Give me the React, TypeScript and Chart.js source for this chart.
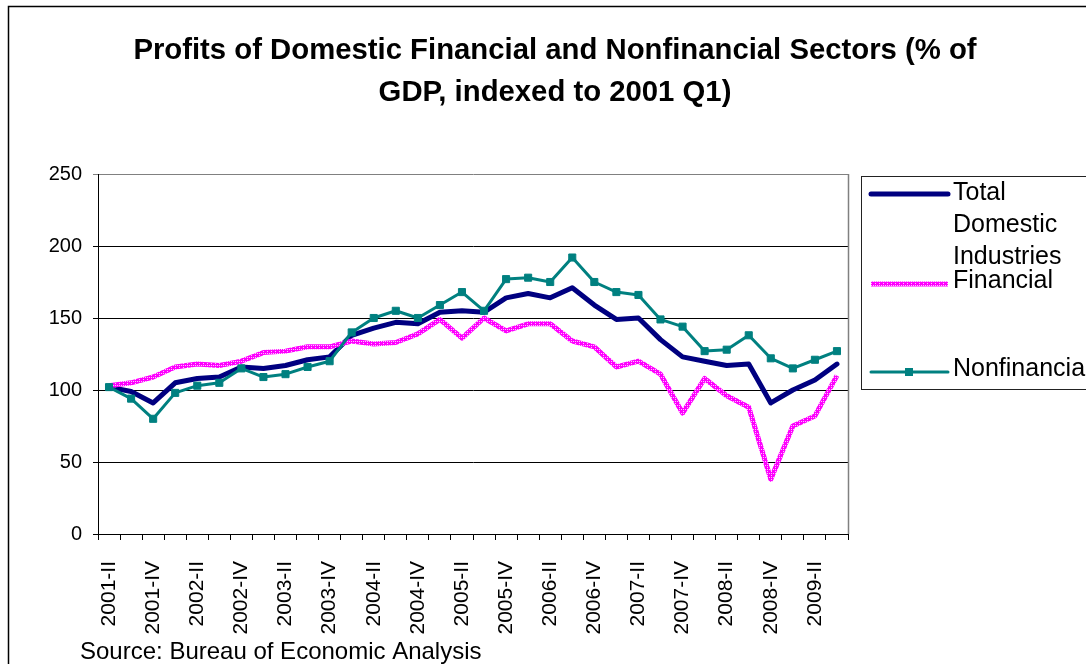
import React, { useEffect, useRef } from 'react';
import { Chart, registerables } from 'chart.js';

Chart.register(...registerables);

const FONT = '"Liberation Sans", Arial, Helvetica, sans-serif';

const TITLE_LINES = [
  'Profits of Domestic Financial and Nonfinancial Sectors (% of',
  'GDP, indexed to 2001 Q1)',
];
const SOURCE_TEXT = 'Source: Bureau of Economic Analysis';

const QUARTERS = [
  '2001-II', '2001-III', '2001-IV',
  '2002-I', '2002-II', '2002-III', '2002-IV',
  '2003-I', '2003-II', '2003-III', '2003-IV',
  '2004-I', '2004-II', '2004-III', '2004-IV',
  '2005-I', '2005-II', '2005-III', '2005-IV',
  '2006-I', '2006-II', '2006-III', '2006-IV',
  '2007-I', '2007-II', '2007-III', '2007-IV',
  '2008-I', '2008-II', '2008-III', '2008-IV',
  '2009-I', '2009-II', '2009-III',
];

const TOTAL = [102, 99, 91, 105, 108, 109, 116, 115, 117, 121, 123, 138, 143, 147, 146, 154, 155, 154, 164, 167, 164, 171, 159, 149, 150, 135, 123, 120, 117, 118, 91, 100, 107, 118];
const FINANCIAL = [103, 105, 109, 116, 118, 117, 120, 126, 127, 130, 130, 134, 132, 133, 139, 149, 136, 150, 141, 146, 146, 134, 130, 116, 120, 111, 84, 108, 96, 88, 38, 75, 82, 110];
const NONFINANCIAL = [102, 94, 80, 98, 103, 105, 115, 109, 111, 116, 120, 140, 150, 155, 150, 159, 168, 155, 177, 178, 175, 192, 175, 168, 166, 149, 144, 127, 128, 138, 122, 115, 121, 127];

const SERIES_NAMES = ['Total Domestic Industries', 'Financial', 'Nonfinancial'];
const LEGEND_TEXT = [['Total', 'Domestic', 'Industries'], ['Financial'], ['Nonfinancial']];

const Y_TICKS = [0, 50, 100, 150, 200, 250];

const NAVY = '#000080';
const MAGENTA = '#ff00ff';
const TEAL = '#008080';

function makePattern(): CanvasPattern | string {
  const c = document.createElement('canvas');
  c.width = 4;
  c.height = 4;
  const g = c.getContext('2d');
  if (!g) return MAGENTA;
  g.fillStyle = MAGENTA;
  g.fillRect(0, 0, 4, 4);
  g.fillStyle = '#ffc4ff';
  g.fillRect(1, 1, 1, 1);
  g.fillRect(3, 3, 1, 1);
  g.fillRect(3, 1, 1, 1);
  const p = g.createPattern(c, 'repeat');
  return p || MAGENTA;
}

export default function App() {
  const ref = useRef<HTMLCanvasElement | null>(null);

  useEffect(() => {
    const canvas = ref.current;
    if (!canvas) return;
    const pattern = makePattern();

    const decor = {
      id: 'decor',
      beforeDraw(chart: any) {
        const ctx = chart.ctx;
        ctx.save();
        ctx.fillStyle = '#fff';
        ctx.fillRect(0, 0, chart.width, chart.height);
        ctx.restore();
      },
      afterDraw(chart: any) {
        const ctx = chart.ctx as CanvasRenderingContext2D;
        const a = chart.chartArea;
        ctx.save();
        // plot area right border
        ctx.strokeStyle = '#808080';
        ctx.lineWidth = 1.5;
        ctx.beginPath();
        ctx.moveTo(a.right + 0.5, a.top);
        ctx.lineTo(a.right + 0.5, a.bottom);
        ctx.stroke();

        // outer frame
        ctx.strokeStyle = '#000';
        ctx.lineWidth = 1.5;
        ctx.strokeRect(8.5, 6.5, 1300, 900);

        // title
        ctx.fillStyle = '#000';
        ctx.font = `bold 29.3px ${FONT}`;
        ctx.textAlign = 'center';
        ctx.textBaseline = 'alphabetic';
        ctx.fillText(TITLE_LINES[0], 555, 59);
        ctx.fillText(TITLE_LINES[1], 555, 101);

        // source
        ctx.font = `24px ${FONT}`;
        ctx.textAlign = 'left';
        ctx.textBaseline = 'middle';
        ctx.fillText(SOURCE_TEXT, 80, 652);

        // legend box
        ctx.strokeStyle = '#222';
        ctx.lineWidth = 1;
        ctx.strokeRect(861.5, 176.5, 400, 213);

        const lx0 = 871;
        const lx1 = 948;
        const tx = 953;
        ctx.font = `25px ${FONT}`;
        ctx.textAlign = 'left';
        ctx.textBaseline = 'middle';
        ctx.fillStyle = '#000';

        // Total
        ctx.lineCap = 'round';
        ctx.strokeStyle = NAVY;
        ctx.lineWidth = 5;
        ctx.beginPath();
        ctx.moveTo(lx0, 194);
        ctx.lineTo(lx1, 194);
        ctx.stroke();
        LEGEND_TEXT[0].forEach((t, i) => ctx.fillText(t, tx, 193 + i * 32));

        // Financial
        ctx.lineCap = 'butt';
        ctx.strokeStyle = pattern as any;
        ctx.lineWidth = 5;
        ctx.beginPath();
        ctx.moveTo(lx0, 284);
        ctx.lineTo(lx1, 284);
        ctx.stroke();
        ctx.fillText(LEGEND_TEXT[1][0], tx, 281);

        // Nonfinancial
        ctx.lineCap = 'round';
        ctx.strokeStyle = TEAL;
        ctx.lineWidth = 3;
        ctx.beginPath();
        ctx.moveTo(lx0, 372);
        ctx.lineTo(lx1, 372);
        ctx.stroke();
        ctx.fillStyle = TEAL;
        ctx.fillRect(905, 368, 8, 8);
        ctx.fillStyle = '#000';
        ctx.fillText(LEGEND_TEXT[2][0], tx, 369);

        ctx.restore();
      },
    };

    const chart = new Chart(canvas, {
      type: 'line',
      data: {
        labels: QUARTERS,
        datasets: [
          {
            label: SERIES_NAMES[0],
            data: TOTAL,
            borderColor: NAVY,
            backgroundColor: NAVY,
            borderWidth: 5,
            pointRadius: 0,
            tension: 0,
            borderJoinStyle: 'round',
            borderCapStyle: 'round',
            order: 3,
          },
          {
            label: SERIES_NAMES[1],
            data: FINANCIAL,
            borderColor: pattern as any,
            backgroundColor: MAGENTA,
            borderWidth: 5,
            pointRadius: 0,
            tension: 0,
            borderJoinStyle: 'round',
            order: 2,
          },
          {
            label: SERIES_NAMES[2],
            data: NONFINANCIAL,
            borderColor: TEAL,
            backgroundColor: TEAL,
            borderWidth: 3,
            pointStyle: 'rect',
            pointRadius: 5,
            pointBorderWidth: 1,
            pointBackgroundColor: TEAL,
            pointBorderColor: TEAL,
            tension: 0,
            borderJoinStyle: 'round',
            order: 1,
          },
        ],
      },
      options: {
        responsive: false,
        animation: false,
        events: [],
        layout: { padding: { left: 0, top: 174, right: 238, bottom: 0 } },
        plugins: {
          legend: { display: false },
          title: { display: false },
          tooltip: { enabled: false },
        },
        scales: {
          x: {
            type: 'category',
            offset: true,
            grid: {
              offset: true,
              drawOnChartArea: false,
              drawTicks: true,
              tickLength: 6,
              color: '#000',
            },
            border: { color: '#000', width: 1 },
            ticks: {
              autoSkip: false,
              maxRotation: 90,
              minRotation: 90,
              padding: 21,
              color: '#000',
              font: { family: FONT, size: 21 },
              callback: (_v: any, i: number) => (i % 2 === 0 ? QUARTERS[i] : ''),
            },
            afterFit: (s: any) => {
              s.height = 130;
            },
          },
          y: {
            min: Y_TICKS[0],
            max: Y_TICKS[Y_TICKS.length - 1],
            afterBuildTicks: (s: any) => {
              s.ticks = Y_TICKS.map((v) => ({ value: v }));
            },
            grid: {
              color: (c: any) => (c.tick && c.tick.value === 250 ? '#808080' : '#000'),
              lineWidth: 1,
              tickLength: 5,
            },
            border: { color: '#000', width: 1 },
            ticks: {
              padding: 11,
              color: '#000',
              font: { family: FONT, size: 20 },
            },
            afterFit: (s: any) => {
              s.width = 98;
            },
          },
        },
      },
      plugins: [decor],
    });

    return () => chart.destroy();
  }, []);

  return (
    <div style={{ position: 'absolute', left: 0, top: 0, width: 1086, height: 664, overflow: 'hidden', background: '#fff' }}>
      <canvas ref={ref} width={1086} height={664} style={{ display: 'block' }} />
    </div>
  );
}
